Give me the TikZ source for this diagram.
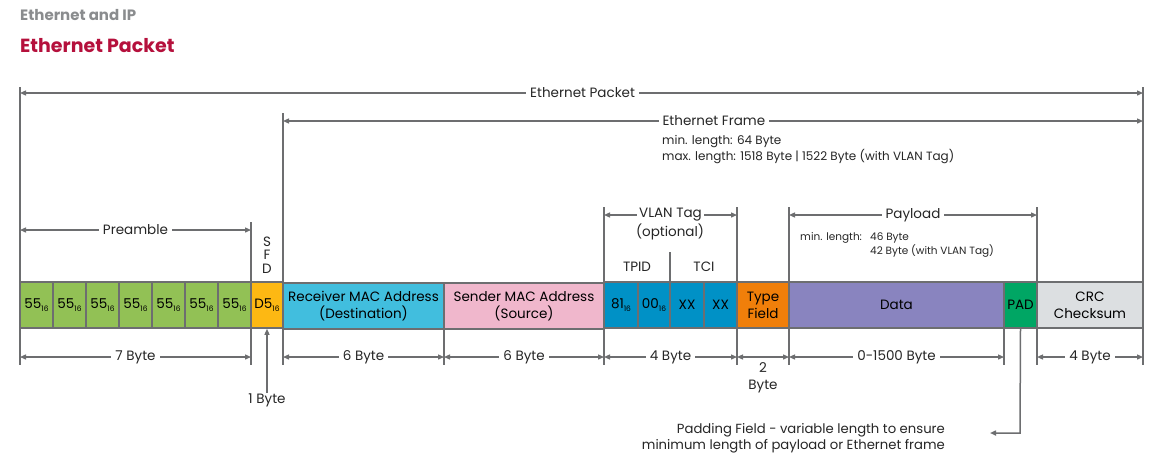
\documentclass[tikz,border=0pt]{standalone}
\usepackage{fontspec}
\setmainfont{Poppins}
\usetikzlibrary{arrows.meta}
\definecolor{lnc}{HTML}{6D6E70}
\definecolor{cgreen}{HTML}{92C155}
\definecolor{csfd}{HTML}{FDB813}
\definecolor{crecv}{HTML}{41BEDE}
\definecolor{csend}{HTML}{F0B7CC}
\definecolor{cvlan}{HTML}{0091C6}
\definecolor{ctype}{HTML}{F07F0A}
\definecolor{cdata}{HTML}{8984BF}
\definecolor{cpad}{HTML}{00A664}
\definecolor{ccrc}{HTML}{DCDFE1}
\definecolor{ctitle}{HTML}{B5103C}
\definecolor{csub}{HTML}{8A8C8E}
\newcommand{\hx}[1]{#1\raisebox{-0.45ex}{\fontsize{7.5}{7.5}\selectfont 16}}
\tikzset{
  cell/.style={draw=lnc, line width=1.6pt, minimum height=46pt, inner sep=0pt, align=center, font=\fontsize{13.5}{17}\selectfont},
  tick/.style={draw=lnc, line width=1.5pt},
  dim/.style={draw=lnc, line width=1.3pt, {Triangle[length=6pt,width=5pt]}-{Triangle[length=6pt,width=5pt]}},
  lbl/.style={fill=white, inner sep=4pt, font=\fontsize{13.5}{15}\selectfont, text=black!85},
  txt/.style={inner sep=0pt, font=\fontsize{13.5}{15}\selectfont, text=black!85},
  small/.style={inner sep=0pt, font=\fontsize{12}{16}\selectfont, text=black!85, align=left}
}
\begin{document}
\begin{tikzpicture}[x=1pt,y=-1pt]
\useasboundingbox[fill=white] (0,0) rectangle (1157,459);
% titles
\node[anchor=west, inner sep=0pt, text=csub, font=\fontsize{15}{16}\selectfont\bfseries] (t1) at (20,15) {Ethernet and IP};
\node[anchor=west, inner sep=0pt, text=ctitle, font=\fontsize{19}{20}\selectfont\bfseries] (t2) at (20,46) {Ethernet Packet};

% tick lines
\draw[tick] (20,87) -- (20,365);
\draw[tick] (251,222) -- (251,365);
\draw[tick] (283,113) -- (283,365);
\draw[tick] (444,328) -- (444,365);
\draw[tick] (604,207) -- (604,365);
\draw[tick] (670,252) -- (670,282);
\draw[tick] (737,207) -- (737,365);
\draw[tick] (789,207) -- (789,365);
\draw[tick] (1004,328) -- (1004,365);
\draw[tick] (1037,207) -- (1037,365);
\draw[tick] (1143,87) -- (1143,365);

% cells
\foreach \i/\a/\b in {1/20/53,2/53/86,3/86/119,4/119/152,5/152/185,6/185/218,7/218/251}{
  \node[cell, fill=cgreen, minimum width={(\b-\a)*1pt}] (p\i) at ({(\a+\b)/2},305) {\hx{55}};
}
\node[cell, fill=csfd, minimum width=32pt] (sfd) at (267,305) {\hx{D5}};
\node[cell, fill=crecv, minimum width=161pt] (recv) at (363.5,306) {Receiver MAC Address\\(Destination)};
\node[cell, fill=csend, minimum width=160pt] (send) at (524,306) {Sender MAC Address\\(Source)};
\node[cell, fill=cvlan, minimum width=34pt] (v1) at (621,305) {\hx{81}};
\node[cell, fill=cvlan, minimum width=32pt] (v2) at (654,305) {\hx{00}};
\node[cell, fill=cvlan, minimum width=34pt] (v3) at (687,305) {XX};
\node[cell, fill=cvlan, minimum width=33pt] (v4) at (720.5,305) {XX};
\node[cell, fill=ctype, minimum width=52pt] (type) at (763,305) {Type\\Field};
\node[cell, fill=cdata, minimum width=215pt] (data) at (896.5,305) {Data};
\node[cell, fill=cpad, minimum width=33pt] (pad) at (1020.5,305) {PAD};
\node[cell, fill=ccrc, minimum width=106pt] (crc) at (1090,305) {CRC\\Checksum};

% top dimensions
\coordinate (pkL) at (20,93); \coordinate (pkR) at (1143,93);
\draw[dim] (pkL) -- (pkR) node[lbl, pos=0.501] (pkT) {Ethernet Packet};
\coordinate (frL) at (283,121); \coordinate (frR) at (1143,121);
\draw[dim] (frL) -- (frR) node[lbl, pos=0.501] (frT) {Ethernet Frame};
\node[small, anchor=west] (frInfo) at (662,150) {min. length: 64 Byte\\max. length: 1518 Byte | 1522 Byte (with VLAN Tag)};

\coordinate (prL) at (20,230); \coordinate (prR) at (251,230);
\draw[dim] (prL) -- (prR) node[lbl, midway] (prT) {Preamble};
\node[txt, align=center, font=\fontsize{13.5}{13.5}\selectfont] (sfdT) at (267,255) {S\\F\\D};

\coordinate (vlL) at (604,215); \coordinate (vlR) at (737,215);
\draw[dim] (vlL) -- (vlR) node[lbl, midway, inner sep=2.5pt] (vlT) {VLAN Tag};
\node[txt] (vlO) at (670,232) {(optional)};
\node[txt] (tpid) at (637,267) {TPID};
\node[txt] (tci) at (704,267) {TCI};

\coordinate (plL) at (789,215); \coordinate (plR) at (1037,215);
\draw[dim] (plL) -- (plR) node[lbl, midway] (plT) {Payload};
\node[small, anchor=west, font=\fontsize{10.5}{14}\selectfont] (plm) at (800,238) {min. length:};
\node[small, anchor=west, font=\fontsize{10.5}{14}\selectfont] (plI) at (870,245) {46 Byte\\42 Byte (with VLAN Tag)};

% bottom dimensions
\coordinate (b1) at (20,357); \coordinate (b2) at (251,357);
\coordinate (b3) at (283,357); \coordinate (b4) at (444,357);
\coordinate (b5) at (604,357); \coordinate (b6) at (737,357);
\coordinate (b7) at (789,357); \coordinate (b8) at (1004,357);
\coordinate (b9) at (1037,357); \coordinate (b10) at (1143,357);
\draw[dim] (b1) -- (b2) node[lbl, midway] {7 Byte};
\draw[dim] (b3) -- (b4) node[lbl, midway] {6 Byte};
\draw[dim] (b4) -- (b5) node[lbl, midway] {6 Byte};
\draw[dim] (b5) -- (b6) node[lbl, midway] {4 Byte};
\draw[dim] (b6) -- (b7);
\node[txt, align=center, font=\fontsize{13.5}{16.5}\selectfont] (twoB) at (763,378) {2\\Byte};
\draw[dim] (b7) -- (b8) node[lbl, midway] {0-1500 Byte};
\draw[dim] (b9) -- (b10) node[lbl, midway] {4 Byte};

% 1 Byte callout
\node[txt] (oneB) at (267,400) {1 Byte};
\draw[draw=lnc, line width=1.3pt, -{Triangle[length=6pt,width=5pt]}] (oneB.north) -- (sfd.south);

% padding callout
\coordinate (padEnd) at (990,433);
\draw[draw=lnc, line width=1.5pt, -{Triangle[length=6pt,width=5pt]}] (pad.south) -- (1020,433) -- (padEnd);
\node[txt, align=right, anchor=east, font=\fontsize{13.2}{16.5}\selectfont] (padT) at (945,438) {Padding Field - variable length to ensure\\minimum length of payload or Ethernet frame};
\end{tikzpicture}
\end{document}
